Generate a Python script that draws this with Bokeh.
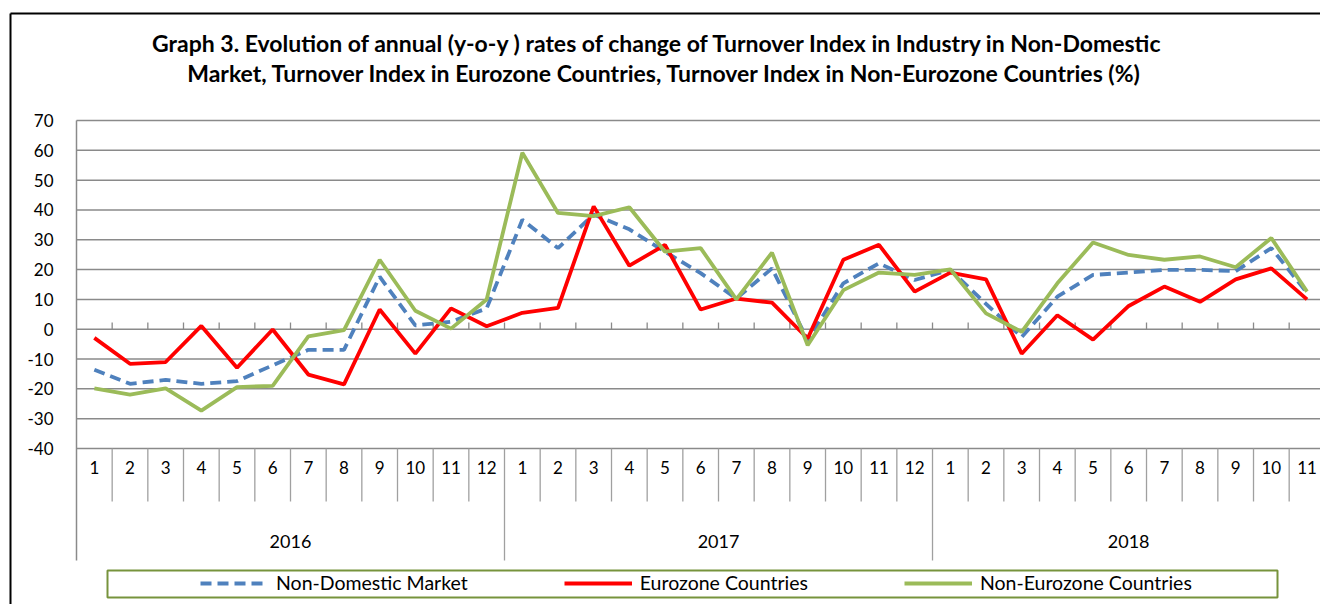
from bokeh.plotting import figure
from bokeh.models import Range1d, Legend, LegendItem, BoxAnnotation, Label
from bokeh.core.properties import value
from bokeh.embed import file_html
from bokeh.resources import INLINE

# ---------------- data ----------------
years = ["2016", "2017", "2018"]
months_per_year = [12, 12, 11]
months = ["1", "2", "3", "4", "5", "6", "7", "8", "9", "10", "11", "12",
          "1", "2", "3", "4", "5", "6", "7", "8", "9", "10", "11", "12",
          "1", "2", "3", "4", "5", "6", "7", "8", "9", "10", "11"]

non_domestic = [-13.6, -18.3, -17.0, -18.3, -17.4, -12.1, -6.9, -6.9, 17.6, 1.3, 2.5, 7.0,
                36.7, 27.2, 38.5, 33.5, 26.0, 18.8, 10.3, 20.4, -3.7, 15.4, 22.1, 16.5,
                19.9, 8.5, -2.6, 10.9, 18.2, 19.0, 19.9, 19.9, 19.5, 27.2, 12.2]
eurozone = [-2.9, -11.6, -11.0, 1.1, -12.9, -0.1, -15.2, -18.5, 6.6, -8.2, 7.0, 1.0,
            5.5, 7.2, 41.2, 21.3, 28.3, 6.6, 10.3, 8.9, -3.1, 23.3, 28.3, 12.6,
            19.0, 16.7, -8.2, 4.7, -3.5, 7.8, 14.3, 9.2, 16.7, 20.4, 10.0]
non_eurozone = [-19.8, -21.9, -19.8, -27.3, -19.4, -19.0, -2.4, -0.3, 23.3, 6.2, 0.2, 10.0,
                59.2, 39.0, 37.9, 40.9, 26.0, 27.2, 10.0, 25.7, -5.4, 13.1, 19.0, 18.2,
                20.1, 5.3, -0.9, 15.4, 29.1, 24.9, 23.3, 24.4, 20.8, 30.6, 12.6]

series_names = ["Non-Domestic Market", "Eurozone Countries", "Non-Eurozone Countries"]
y_ticks = [-40, -30, -20, -10, 0, 10, 20, 30, 40, 50, 60, 70]
y_tick_labels = ["-40", "-30", "-20", "-10", "0", "10", "20", "30", "40", "50", "60", "70"]

title_line1 = "Graph 3. Evolution of annual (y-o-y ) rates  of change of Turnover Index  in Industry  in Non-Domestic"
title_line2 = "Market,  Turnover Index in Eurozone Countries, Turnover Index in Non-Eurozone Countries (%)"

# ---------------- layout helpers (pixel -> data) ----------------
W, H = 1320, 604
PLOT_LEFT_PX = 76.0          # value axis position
CAT_PX = 35.667              # width of one month category
TOP_PX, BOT_PX = 120.0, 448.0  # pixel rows of the top / bottom value ticks
n = len(months)
y_bottom = y_ticks[0]
y_top = y_ticks[-1]
PX_PER_UNIT = (BOT_PX - TOP_PX) / (y_top - y_bottom)


def xd(px):
    return (px - PLOT_LEFT_PX) / CAT_PX


def yd(py):
    return y_top - (py - TOP_PX) / PX_PER_UNIT


FONT = "Lato"
GRID = "#8a8a8a"
SEP = "#a0a0a0"
xs = [i + 0.5 for i in range(n)]

p = figure(width=W, height=H, output_backend="svg", toolbar_location=None,
           x_range=Range1d(xd(0), xd(W)), y_range=Range1d(yd(H), yd(0)),
           x_axis_location=None, y_axis_location=None,
           min_border_left=0, min_border_right=0, min_border_top=0, min_border_bottom=0)
p.outline_line_color = None
p.background_fill_color = "white"
p.border_fill_color = "white"
p.xgrid.visible = False
p.ygrid.visible = False

# outer chart border (left and top edges visible)
p.segment(x0=[xd(10), xd(10)], y0=[yd(13), yd(13)], x1=[xd(W + 20), xd(10)],
          y1=[yd(13), yd(H + 20)], color="#000000", line_width=2)

# horizontal gridlines
p.segment(x0=[0] * len(y_ticks), y0=y_ticks, x1=[n] * len(y_ticks), y1=y_ticks,
          color=GRID, line_width=1.5)

# y tick labels
p.text(x=[xd(53)] * len(y_ticks), y=y_ticks, text=y_tick_labels, text_align="right",
       text_baseline="middle", text_font=value(FONT), text_font_size="17px",
       text_color="#000000")

# category boundaries
bounds = list(range(1, n + 1))
year_starts = []
acc = 0
for c in months_per_year:
    year_starts.append(acc)
    acc += c
year_bounds = year_starts[1:]
month_bounds = [b for b in bounds if b not in year_bounds]
table_month_bottom = yd(501)
table_year_bottom = yd(560)

# left axis line (value axis + category table)
p.segment(x0=[0], y0=[y_top], x1=[0], y1=[table_year_bottom], color=GRID, line_width=1.5)
# month separators
p.segment(x0=month_bounds, y0=[y_bottom] * len(month_bounds), x1=month_bounds,
          y1=[table_month_bottom] * len(month_bounds), color=SEP, line_width=1.3)
# year separators
p.segment(x0=year_bounds, y0=[y_bottom] * len(year_bounds), x1=year_bounds,
          y1=[table_year_bottom] * len(year_bounds), color=SEP, line_width=1.3)
# tick marks on the zero axis
tick_len = 6.7 / PX_PER_UNIT
p.segment(x0=bounds, y0=[0] * len(bounds), x1=bounds, y1=[tick_len] * len(bounds),
          color=GRID, line_width=1.3)

# month labels
p.text(x=xs, y=[yd(467)] * n, text=months, text_align="center", text_baseline="middle",
       text_font=value(FONT), text_font_size="17px", text_color="#000000")
# year labels
year_x = [s + c / 2 for s, c in zip(year_starts, months_per_year)]
p.text(x=year_x, y=[yd(541)] * len(years), text=years, text_align="center",
       text_baseline="middle", text_font=value(FONT), text_font_size="18px",
       text_color="#000000")

# series
r1 = p.line(xs, non_domestic, line_color="#4F81BD", line_width=3.8, line_dash="11 6")
r2 = p.line(xs, eurozone, line_color="#FF0000", line_width=3.8)
r3 = p.line(xs, non_eurozone, line_color="#9BBB59", line_width=3.8)

# legend frame
p.add_layout(BoxAnnotation(left=xd(107), right=xd(1277), top=yd(570), bottom=yd(597),
                           fill_color=None, fill_alpha=0, line_color="#77933C",
                           line_alpha=1.0, line_width=2))

legend = Legend(items=[LegendItem(label=series_names[0], renderers=[r1]),
                       LegendItem(label=series_names[1], renderers=[r2]),
                       LegendItem(label=series_names[2], renderers=[r3])],
                orientation="horizontal", location=(200, H - 594), border_line_color=None,
                background_fill_alpha=0, glyph_width=68, glyph_height=22,
                label_standoff=8, spacing=96, padding=0, margin=0,
                label_text_font=FONT, label_text_font_size="19.5px",
                label_text_color="#000000")
p.add_layout(legend)

# title
p.add_layout(Label(x=xd(666), y=yd(42), text=title_line1, text_align="center",
                   text_baseline="middle", text_font=FONT, text_font_size="23px",
                   text_font_style="bold", text_color="#000000"))
p.add_layout(Label(x=xd(667), y=yd(72), text=title_line2, text_align="center",
                   text_baseline="middle", text_font=FONT, text_font_size="23px",
                   text_font_style="bold", text_color="#000000"))

open("out.html", "w").write(file_html(p, INLINE))
